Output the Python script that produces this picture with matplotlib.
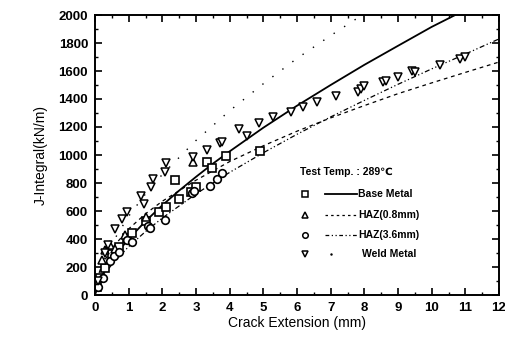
import matplotlib
matplotlib.use("Agg")
import matplotlib.pyplot as plt
from matplotlib.ticker import MultipleLocator

plt.rcParams['font.family'] = ['Liberation Sans', 'DejaVu Sans']

# ---- data ----
base_x = [0.05, 0.15, 0.3, 0.5, 0.7, 0.95, 1.1, 1.5, 1.9, 2.1, 2.38, 2.5, 2.85, 3.0, 3.33, 3.47, 3.9, 4.9]
base_j = [60, 120, 190, 290, 340, 410, 440, 530, 590, 630, 821, 686, 736, 771, 950, 907, 993, 1029]

haz08_x = [0.05, 0.2, 0.3, 0.45, 0.6, 0.9, 1.5, 2.91]
haz08_j = [80, 250, 320, 360, 330, 430, 560, 950]

haz36_x = [0.0, 0.1, 0.25, 0.45, 0.55, 0.7, 0.95, 1.1, 1.57, 1.62, 2.08, 2.88, 2.95, 3.42, 3.62, 3.77]
haz36_j = [90, 60, 120, 240, 280, 310, 390, 380, 490, 480, 536, 730, 740, 780, 830, 870]

weld_x = [0.1, 0.3, 0.4, 0.6, 0.8, 0.95, 1.37, 1.46, 1.66, 1.72, 2.08, 2.11, 2.91, 3.33, 3.71, 3.77,
          4.28, 4.51, 4.87, 5.29, 5.82, 6.18, 6.59, 7.16, 7.81, 7.9, 8.0, 8.55, 8.65, 9.0, 9.42, 9.5,
          10.25, 10.84, 11.0]
weld_j = [100, 300, 357, 471, 543, 593, 707, 650, 771, 829, 879, 943, 986, 1036, 1086, 1093,
          1186, 1136, 1229, 1271, 1307, 1343, 1379, 1421, 1450, 1471, 1490, 1521, 1530, 1557, 1600, 1590,
          1643, 1686, 1700]

# fitted curves
base_cx = [0, 0.1, 0.25, 0.5, 0.75, 1, 1.5, 2, 2.5, 3, 3.5, 4, 5, 6, 7, 8, 9, 10, 10.7]
base_cj = [0, 84, 156, 250, 329, 400, 527, 641, 746, 844, 938, 1026, 1195, 1352, 1500, 1644, 1780, 1915, 2000]

haz08_cx = [0, 0.1, 0.25, 0.5, 1, 1.5, 2, 3, 4, 5, 6, 7, 8, 9, 10, 11, 12]
haz08_cj = [0, 146, 232, 332, 472, 580, 670, 820, 953, 1066, 1170, 1265, 1353, 1438, 1515, 1590, 1664]

haz36_cx = [0, 0.1, 0.25, 0.5, 1, 1.5, 2, 3, 4, 5, 6, 7, 8, 9, 10, 11, 12]
haz36_cj = [0, 74, 137, 218, 346, 453, 550, 722, 876, 1016, 1148, 1272, 1390, 1505, 1615, 1721, 1829]

weld_cx = [0, 0.1, 0.25, 0.5, 1, 1.5, 2, 3, 4, 5, 6, 7, 8]
weld_cj = [0, 137, 241, 368, 563, 722, 861, 1104, 1316, 1509, 1690, 1853, 2010]

x_ticks = list(range(0, 13))
y_ticks = list(range(0, 2001, 200))

fig = plt.figure(figsize=(5.05, 3.47), dpi=100)
ax = fig.add_axes([95/505, 52/347, 404/505, 280/347])

ax.plot(base_cx, base_cj, color='black', lw=1.3, ls='-')
ax.plot(haz08_cx, haz08_cj, color='black', lw=0.9, ls=(0, (3, 3)))
ax.plot(haz36_cx, haz36_cj, color='black', lw=0.9, ls=(0, (4, 2, 1, 2, 1, 2)))
ax.plot(weld_cx, weld_cj, color='black', lw=1.0, ls=(0, (1, 8)))

ms = 5.5
ax.plot(base_x, base_j, ls='none', marker='s', ms=ms, mfc='white', mec='black', mew=1.2)
ax.plot(haz08_x, haz08_j, ls='none', marker='^', ms=ms, mfc='white', mec='black', mew=1.1)
ax.plot(haz36_x, haz36_j, ls='none', marker='o', ms=ms, mfc='white', mec='black', mew=1.2)
ax.plot(weld_x, weld_j, ls='none', marker='v', ms=ms + 0.5, mfc='white', mec='black', mew=1.1)

ax.set_xlim(0, 12)
ax.set_ylim(0, 2000)
ax.set_xticks(x_ticks)
ax.set_yticks(y_ticks)
ax.xaxis.set_minor_locator(MultipleLocator(0.5))
ax.yaxis.set_minor_locator(MultipleLocator(100))
ax.tick_params(which='major', direction='in', length=5, width=1.2, top=True, right=True,
               labelsize=9.5, pad=5)
ax.tick_params(which='minor', direction='in', length=2.5, width=1.0, top=True, right=True)
for lab in ax.get_xticklabels() + ax.get_yticklabels():
    lab.set_fontweight('bold')
for s in ax.spines.values():
    s.set_linewidth(1.4)

ax.set_xlabel('Crack Extension (mm)', fontsize=10, labelpad=1.5)
ax.set_ylabel('J-Integral(kN/m)', fontsize=10, labelpad=8)

# ---- legend (drawn in axes coordinates) ----
T = ax.transAxes
ax.text(0.507, 0.439, 'Test Temp. : 289\u2103', transform=T, fontsize=7.5, fontweight='bold',
        va='center', ha='left')
rows = [0.361, 0.287, 0.216, 0.148]
labels = ['Base Metal', 'HAZ(0.8mm)', 'HAZ(3.6mm)', 'Weld Metal']
markers = ['s', '^', 'o', 'v']
styles = [('-', 1.3), ((0, (2, 2.5)), 0.9), ((0, (3, 2, 1, 2, 1, 2)), 0.9), ((0, (1, 30)), 0.9)]
for yy, lab, mk, (st, w) in zip(rows, labels, markers, styles):
    ax.plot([0.52], [yy], transform=T, marker=mk, ms=4, mfc='white', mec='black', mew=1.1, ls='none')
    if lab == 'Weld Metal':
        ax.plot([0.583], [yy], transform=T, marker='.', ms=1.5, color='black', ls='none')
    else:
        ax.plot([0.569, 0.649], [yy, yy], transform=T, color='black', lw=w, ls=st)
    ax.text(0.652 if lab != 'Weld Metal' else 0.66, yy, lab, transform=T, fontsize=7.5,
            fontweight='bold', va='center', ha='left')

fig.savefig('out.png', dpi=100)
